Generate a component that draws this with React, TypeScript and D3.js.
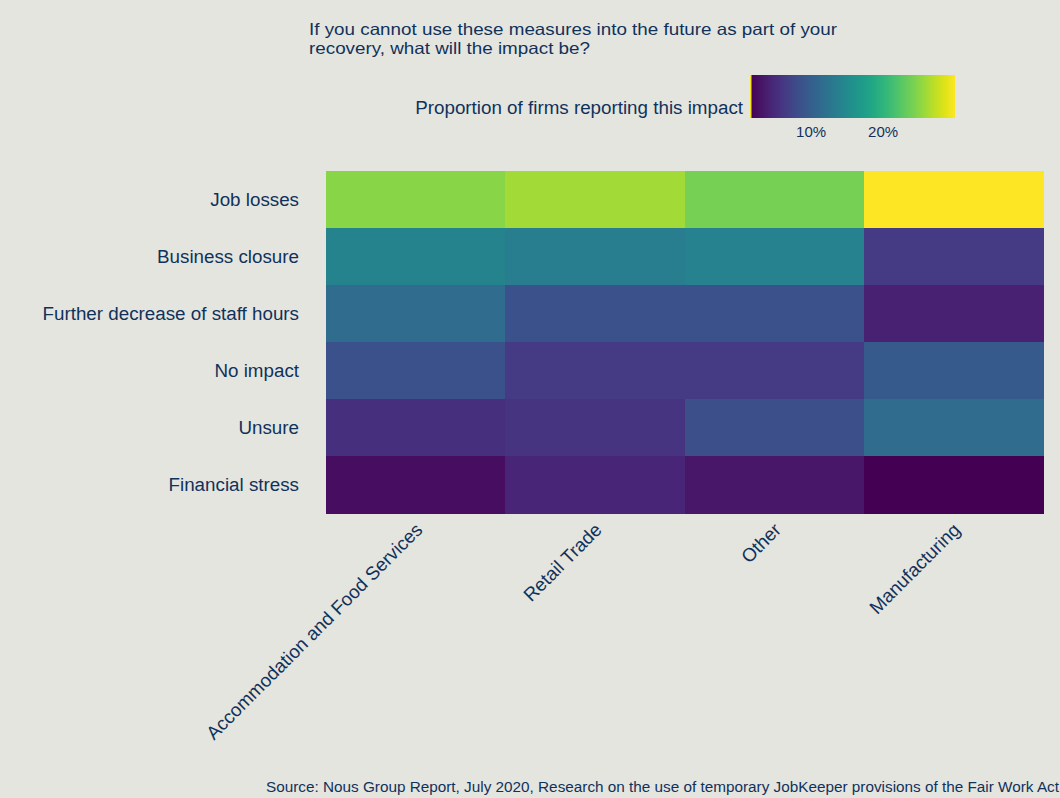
import React from "react";
import * as d3 from "d3";

const industries = ["Accommodation and Food Services", "Retail Trade", "Other", "Manufacturing"];
const impacts = ["Job losses", "Business closure", "Further decrease of staff hours", "No impact", "Unsure", "Financial stress"];
// percent of firms reporting each impact, in the order of `impacts`
const accommodation = [24.9, 14.3, 11.5, 8.6, 5.5, 2.4];
const retail = [26.0, 13.5, 8.6, 6.4, 5.8, 4.4];
const other = [24.0, 14.1, 8.6, 6.4, 8.4, 3.2];
const manufacturing = [30.0, 6.4, 4.1, 9.5, 11.5, 1.5];
const legendTicks = [10, 20];
const titleLines = [
  "If you cannot use these measures into the future as part of your",
  "recovery, what will the impact be?",
];
const titleWidths = [528, 281];

const W = 1060;
const H = 798;
const BG = "#e5e5e0";
const TXT = "#10325a";
const FONT = "'Liberation Sans', Arial, sans-serif";

export default function App() {
  const series = [accommodation, retail, other, manufacturing];
  const cells = industries.flatMap((ind, i) =>
    impacts.map((imp, j) => ({ ind, imp, v: series[i][j] }))
  );
  const all = cells.map((c) => c.v);
  const vmin = d3.min(all) as number;
  const vmax = d3.max(all) as number;

  const x = d3.scaleBand<string>().domain(industries).range([326, 1043]);
  const y = d3.scaleBand<string>().domain(impacts).range([171, 513]);
  const color = d3.scaleSequential(d3.interpolateViridis).domain([vmin, vmax]);
  const lx = d3.scaleLinear().domain([vmin, vmax]).range([750, 955]);

  const stops = d3.range(0, 1.0001, 0.05);

  return (
    <svg
      width={W}
      height={H}
      style={{ position: "absolute", left: 0, top: 0, display: "block" }}
      fontFamily={FONT}
    >
      <defs>
        <linearGradient id="vir" x1="0" x2="1" y1="0" y2="0">
          {stops.map((s) => (
            <stop key={s} offset={s} stopColor={d3.interpolateViridis(s)} />
          ))}
        </linearGradient>
      </defs>
      <rect x={0} y={0} width={W} height={H} fill={BG} />

      {titleLines.map((l, i) => (
        <text
          key={i}
          x={309}
          y={35 + i * 18.5}
          fontSize={16.5}
          fill={TXT}
          textLength={titleWidths[i]}
          lengthAdjust="spacingAndGlyphs"
        >
          {l}
        </text>
      ))}

      {/* legend */}
      <text x={743} y={114} fontSize={18.8} fill={TXT} textAnchor="end">
        Proportion of firms reporting this impact
      </text>
      <rect x={lx(vmin)} y={75} width={lx(vmax) - lx(vmin)} height={43} fill="url(#vir)" />
      <rect x={lx(vmin)} y={75} width={1.5} height={43} fill="#f4e61e" />
      {legendTicks.map((t) => (
        <text key={t} x={lx(t)} y={137} fontSize={15} fill={TXT} textAnchor="middle">
          {t}%
        </text>
      ))}

      {/* cells */}
      <g shapeRendering="crispEdges">
        {cells.map((c) => (
          <rect
            key={c.ind + c.imp}
            x={x(c.ind)}
            y={y(c.imp)}
            width={x.bandwidth() + 0.5}
            height={y.bandwidth() + 0.5}
            fill={color(c.v)}
          />
        ))}
      </g>

      {/* y labels */}
      {impacts.map((imp) => (
        <text
          key={imp}
          x={299}
          y={(y(imp) as number) + y.bandwidth() / 2}
          dy="0.35em"
          fontSize={18.8}
          fill={TXT}
          textAnchor="end"
        >
          {imp}
        </text>
      ))}

      {/* x labels */}
      {industries.map((ind) => {
        const cx = (x(ind) as number) + x.bandwidth() / 2 + 8;
        const cy = 531;
        return (
          <text
            key={ind}
            x={cx}
            y={cy}
            fontSize={18.8}
            fill={TXT}
            textAnchor="end"
            transform={`rotate(-45, ${cx}, ${cy})`}
          >
            {ind}
          </text>
        );
      })}

      <text x={1059} y={792} fontSize={15.3} fill={TXT} textAnchor="end">
        Source: Nous Group Report, July 2020, Research on the use of temporary JobKeeper provisions of the Fair Work Act
      </text>
    </svg>
  );
}
